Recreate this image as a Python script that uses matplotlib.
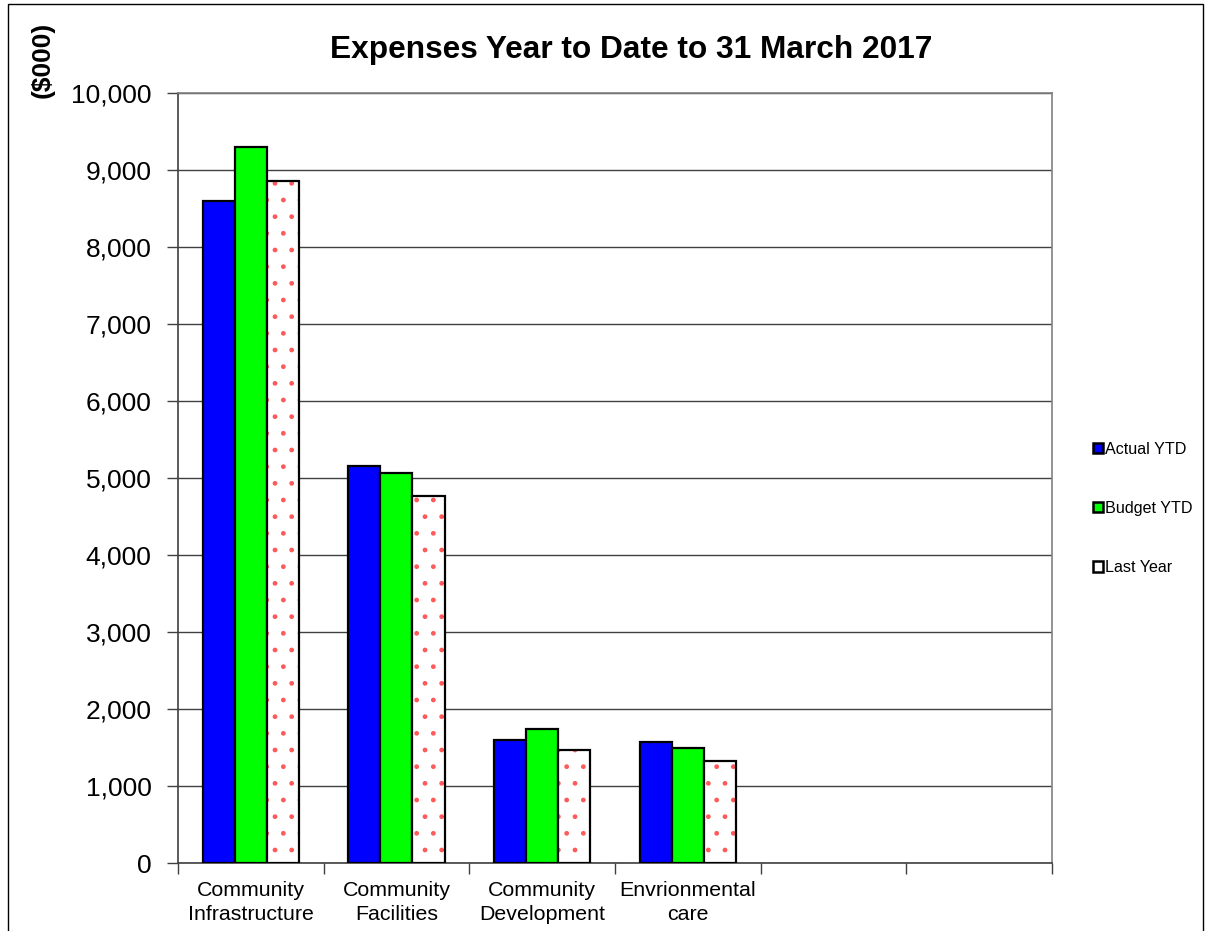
import numpy as np
import matplotlib.pyplot as plt
from matplotlib.patches import Patch, Rectangle

plt.rcParams['font.family'] = ['Liberation Sans', 'DejaVu Sans']

categories = ['Community\nInfrastructure', 'Community\nFacilities',
              'Community\nDevelopment', 'Envrionmental\ncare', '', '']
actual_ytd = [8600, 5155, 1600, 1570]
budget_ytd = [9295, 5060, 1740, 1495]
last_year = [8857, 4766, 1465, 1325]
y_ticks = [0, 1000, 2000, 3000, 4000, 5000, 6000, 7000, 8000, 9000, 10000]

fig = plt.figure(figsize=(12.05, 9.31), dpi=100)
ax = fig.add_axes([0.1477, 0.0730, 0.7253, 0.8271])

x = np.arange(len(actual_ytd))
w = 0.22
ax.bar(x - w, actual_ytd, w, color='#0000ff', edgecolor='black', linewidth=1.6, zorder=3)
ax.bar(x, budget_ytd, w, color='#00ff00', edgecolor='black', linewidth=1.6, zorder=3)
# dotted fill first, then the black outline on top
ax.bar(x + w, last_year, w, color='white', edgecolor='#ff5a5a', linewidth=0,
       hatch='.', zorder=3)
ax.bar(x + w, last_year, w, color='none', edgecolor='black', linewidth=1.6, zorder=4)

ax.set_xlim(-0.5, len(categories) - 0.5)
ax.set_ylim(0, 10000)
ax.set_yticks(y_ticks)
ax.set_yticklabels(['{:,}'.format(v) for v in y_ticks], fontsize=19)
ax.yaxis.grid(True, color='#404040', linewidth=1.0, zorder=0)
ax.tick_params(axis='y', length=8, width=1.0, color='#404040', pad=11)

ax.set_xticks(np.arange(-0.5, len(categories), 1.0))
ax.set_xticklabels([])
ax.set_xticks(np.arange(len(categories)), minor=True)
ax.set_xticklabels(categories, minor=True, fontsize=15.4, linespacing=1.3)
ax.tick_params(axis='x', which='major', length=8, width=1.0, color='#404040')
ax.tick_params(axis='x', which='minor', length=0, pad=13)

for side in ['top', 'right']:
    ax.spines[side].set_color('#808080')
    ax.spines[side].set_linewidth(1.2)
for side in ['left', 'bottom']:
    ax.spines[side].set_color('#404040')
    ax.spines[side].set_linewidth(1.2)

fig.text(0.5237, 0.946, 'Expenses Year to Date to 31 March 2017', ha='center',
         va='center', fontsize=22.8, fontweight='bold')
fig.text(0.035, 0.9355, '($000)', ha='center', va='center', rotation=90,
         fontsize=19, fontweight='bold')

handles = [Patch(facecolor='#0000ff', edgecolor='black', linewidth=1.8),
           Patch(facecolor='#00ff00', edgecolor='black', linewidth=1.8),
           Patch(facecolor='white', edgecolor='black', linewidth=1.8)]
fig.legend(handles, ['Actual YTD', 'Budget YTD', 'Last Year'],
           loc='center left', bbox_to_anchor=(0.907, 0.454), frameon=False,
           fontsize=11.6, handlelength=0.6, handleheight=0.6,
           handletextpad=0.15, labelspacing=2.75, borderpad=0,
           borderaxespad=0)

# outer chart border
fig.add_artist(Rectangle((8 / 1205, -0.05), 1195 / 1205, 1.05 - 4 / 931,
                         transform=fig.transFigure, fill=False,
                         edgecolor='black', linewidth=1.0))

fig.savefig('out.png', dpi=100)
